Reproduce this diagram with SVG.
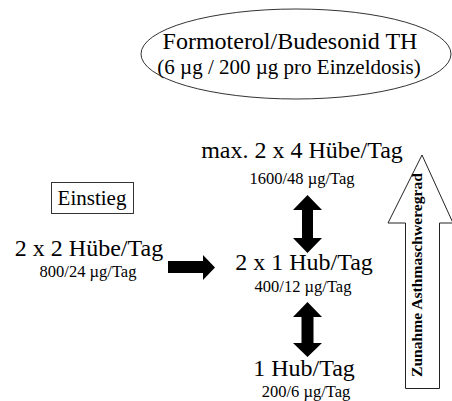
<svg xmlns="http://www.w3.org/2000/svg" width="452" height="401" viewBox="0 0 452 401">
<style>
text{font-family:"Liberation Serif","Times New Roman",serif;fill:#000;text-anchor:middle}
.big{font-size:24px}
.small{font-size:16.5px}
.outline{fill:none;stroke:#333;stroke-width:1}
.solid{fill:#000;stroke:none}
</style>
<rect width="452" height="401" fill="#fff"/>
<g id="drug">
<ellipse class="outline" cx="296" cy="54" rx="155" ry="45"/>
<text class="big" x="290" y="49">Formoterol/Budesonid TH</text>
<text x="289" y="74" style="font-size:21px">(6 µg / 200 µg pro Einzeldosis)</text>
</g>
<g id="einstieg">
<rect class="outline" x="51.5" y="182.5" width="82" height="31"/>
<text x="92" y="205" style="font-size:21px">Einstieg</text>
</g>
<g id="start">
<text class="big" x="89" y="256">2 x 2 Hübe/Tag</text>
<text class="small" x="88" y="277">800/24 µg/Tag</text>
</g>
<g id="max">
<text class="big" x="302" y="158">max. 2 x 4 Hübe/Tag</text>
<text class="small" x="302" y="184">1600/48 µg/Tag</text>
</g>
<g id="mid">
<text class="big" x="304" y="270">2 x 1 Hub/Tag</text>
<text class="small" x="303" y="292">400/12 µg/Tag</text>
</g>
<g id="low">
<text class="big" x="304" y="376">1 Hub/Tag</text>
<text class="small" x="306" y="397">200/6 µg/Tag</text>
</g>
<g id="severity">
<polygon points="422,155 453,223 439.5,223 439.5,388.5 405.5,388.5 405.5,223 388,223" fill="#fff" stroke="#222" stroke-width="1"/>
<text transform="translate(422,275) rotate(-90)" style="font-size:15px;font-weight:bold" textLength="204" lengthAdjust="spacingAndGlyphs">Zunahme Asthmaschweregrad</text>
</g>
<g id="connectors">
<polygon class="solid" points="168,261 203,261 203,255 215,267.5 203,280 203,273 168,273"/>
<polygon class="solid" points="307.5,195 322,210 313,210 313,238 322,238 307.5,253 293,238 302,238 302,210 293,210"/>
<polygon class="solid" points="307.5,302 322,317 313.5,317 313.5,343 322,343 307.5,357 293,343 301.5,343 301.5,317 293,317"/>
</g>
</svg>
